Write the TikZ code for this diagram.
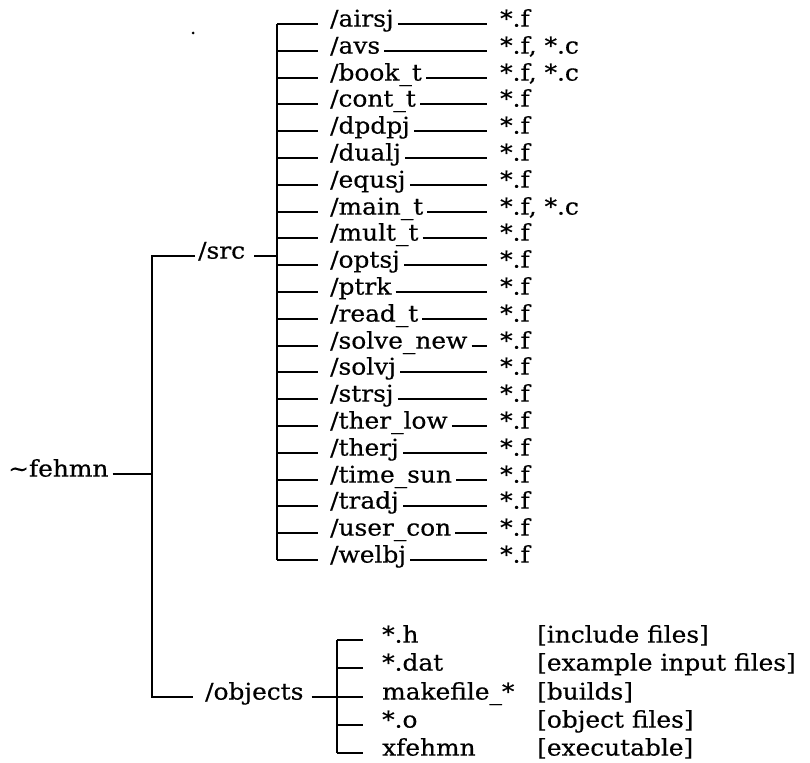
\documentclass[tikz,border=0pt]{standalone}
\usepackage{fontspec}
\setmainfont[FakeStretch=1.08,FakeBold=0.5]{DejaVu Serif}
\begin{document}
\begin{tikzpicture}[x=1pt,y=-1pt,
  font=\fontsize{23}{27}\selectfont,
  lbl/.style={inner sep=0pt, anchor=west, text height=0.75em, text depth=0.23em},
  ln/.style={line width=2pt}]
\useasboundingbox (0,0) rectangle (810,762);

% root
\node[lbl] (root) at (8,474) {\textasciitilde fehmn};
\node[lbl] (src) at (198,256) {/src};
\node[lbl] (obj) at (205,697) {/objects};
\coordinate (srcj) at (152,256);
\coordinate (objj) at (152,697);
\draw[ln, shorten <=3pt, shorten >=12pt] (src.west) -- (srcj) -- (objj) -- (obj.west);
\draw[ln, shorten <=4pt] (root.east) -- (root.east -| srcj);

% src children
\foreach [count=\i from 0] \n/\f in {airsj/{*.f}, avs/{*.f, *.c}, book\_t/{*.f, *.c}, cont\_t/{*.f},
  dpdpj/{*.f}, dualj/{*.f}, equsj/{*.f}, main\_t/{*.f, *.c}, mult\_t/{*.f}, optsj/{*.f},
  ptrk/{*.f}, read\_t/{*.f}, solve\_new/{*.f}, solvj/{*.f}, strsj/{*.f}, ther\_low/{*.f},
  therj/{*.f}, time\_sun/{*.f}, tradj/{*.f}, user\_con/{*.f}, welbj/{*.f}} {
  \pgfmathsetmacro\yy{round(24+26.8*\i)}
  \coordinate (j\i) at (277,\yy);
  \node[lbl] (d\i) at (330,\yy) {/\n};
  \node[lbl] (f\i) at (500,\yy) {\f};
  \draw[ln, shorten >=12pt] (j\i) -- (d\i.west);
  \draw[ln, shorten <=4pt, shorten >=13pt] (d\i.east) -- (f\i.west);
}
\draw[ln] (j0) -- (j20);
\draw[ln, shorten <=9pt] (src.east) -- (src.east -| j0);

% objects children
\foreach [count=\i from 0] \n/\b in {{*.h}/{[include files]}, {*.dat}/{[example input files]},
  {makefile\_*}/{[builds]}, {*.o}/{[object files]}, {xfehmn}/{[executable]}} {
  \pgfmathsetmacro\yy{round(640+28.25*\i)}
  \coordinate (oj\i) at (337,\yy);
  \node[lbl] (o\i) at (382,\yy) {\n};
  \node[lbl] (b\i) at (537,\yy) {\b};
  \draw[ln, shorten >=19pt] (oj\i) -- (o\i.west);
}
\draw[ln] (oj0) -- (oj4);
\draw[ln, shorten <=8pt] (obj.east) -- (obj.east -| oj0);

% speck
\fill (193,33) circle (1.5pt);
\end{tikzpicture}
\end{document}
